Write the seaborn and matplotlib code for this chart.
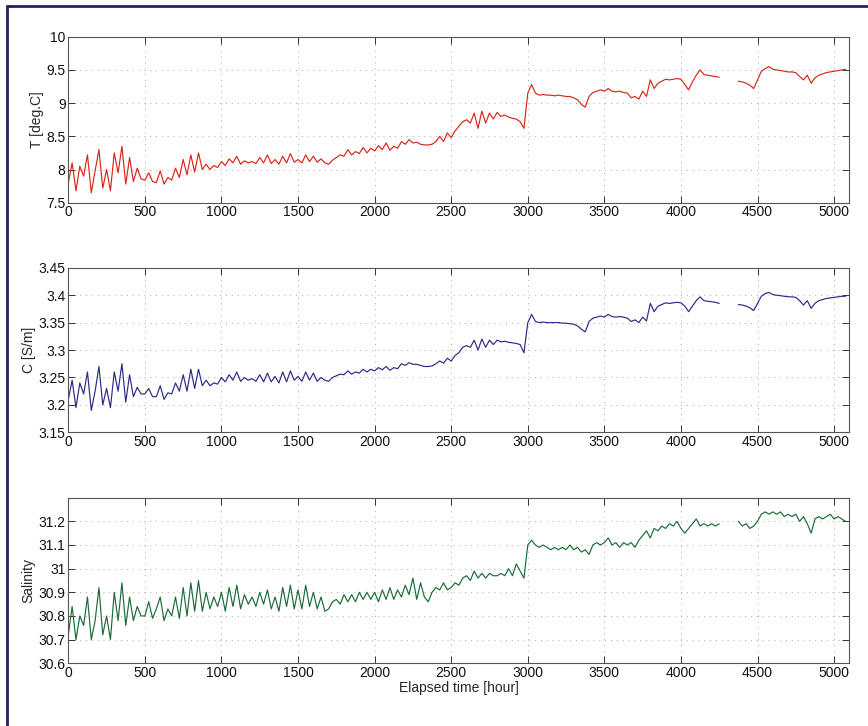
import numpy as np
import pandas as pd
import seaborn as sns
import matplotlib.pyplot as plt
from matplotlib.lines import Line2D

# elapsed hours, one reading every 25 h (0 .. 5075)
hours = np.arange(0, 5100, 25)

temp = [
    7.80, 8.10, 7.68, 8.05, 7.90, 8.22, 7.65, 7.98, 8.30, 7.72, 8.00, 7.68, 8.25, 7.95, 8.35, 7.78, 8.18, 7.82, 8.02, 7.86,
    7.84, 7.95, 7.82, 7.80, 7.98, 7.78, 7.88, 7.84, 8.02, 7.88, 8.15, 7.92, 8.22, 7.96, 8.25, 8.00, 8.08, 8.00, 8.06, 8.03,
    8.12, 8.06, 8.16, 8.10, 8.20, 8.08, 8.13, 8.10, 8.12, 8.09, 8.18, 8.10, 8.22, 8.09, 8.15, 8.08, 8.20, 8.10, 8.24, 8.11,
    8.15, 8.10, 8.22, 8.12, 8.20, 8.11, 8.16, 8.10, 8.08, 8.14, 8.18, 8.22, 8.20, 8.30, 8.22, 8.27, 8.24, 8.33, 8.25, 8.32,
    8.28, 8.36, 8.30, 8.40, 8.29, 8.35, 8.32, 8.42, 8.38, 8.45, 8.40, 8.41, 8.38, 8.37, 8.37, 8.38, 8.42, 8.50, 8.42, 8.55,
    8.48, 8.58, 8.65, 8.72, 8.75, 8.70, 8.85, 8.62, 8.88, 8.70, 8.85, 8.76, 8.86, 8.80, 8.82, 8.79, 8.77, 8.76, 8.72, 8.62,
    9.15, 9.28, 9.15, 9.12, 9.13, 9.12, 9.12, 9.11, 9.12, 9.11, 9.10, 9.10, 9.08, 9.05, 8.98, 8.94, 9.10, 9.16, 9.18, 9.20,
    9.18, 9.22, 9.18, 9.17, 9.18, 9.16, 9.15, 9.08, 9.10, 9.06, 9.18, 9.10, 9.35, 9.22, 9.30, 9.33, 9.36, 9.35, 9.36, 9.37,
    9.36, 9.28, 9.20, 9.32, 9.42, 9.50, 9.43, 9.42, 9.41, 9.40, 9.39, np.nan, np.nan, np.nan, np.nan, 9.33, 9.32, 9.30, 9.27, 9.22,
    9.35, 9.48, 9.52, 9.55, 9.51, 9.50, 9.49, 9.48, 9.47, 9.47, 9.46, 9.40, 9.35, 9.42, 9.30, 9.38, 9.42, 9.44, 9.46, 9.47,
    9.48, 9.49, 9.50, 9.51,
]

cond = [
    3.210, 3.245, 3.195, 3.240, 3.220, 3.260, 3.190, 3.225, 3.270, 3.200, 3.230, 3.195, 3.260, 3.225, 3.275, 3.205, 3.255, 3.215, 3.232, 3.220,
    3.220, 3.230, 3.215, 3.215, 3.235, 3.210, 3.222, 3.220, 3.240, 3.225, 3.255, 3.225, 3.265, 3.230, 3.265, 3.235, 3.245, 3.235, 3.240, 3.238,
    3.250, 3.242, 3.255, 3.245, 3.260, 3.243, 3.250, 3.245, 3.248, 3.243, 3.255, 3.242, 3.258, 3.242, 3.252, 3.240, 3.260, 3.242, 3.262, 3.245,
    3.252, 3.243, 3.260, 3.245, 3.258, 3.243, 3.250, 3.245, 3.243, 3.250, 3.253, 3.256, 3.255, 3.262, 3.256, 3.260, 3.258, 3.265, 3.260, 3.265,
    3.262, 3.268, 3.264, 3.270, 3.263, 3.268, 3.266, 3.275, 3.272, 3.277, 3.274, 3.274, 3.272, 3.270, 3.270, 3.271, 3.275, 3.280, 3.276, 3.285,
    3.280, 3.290, 3.295, 3.305, 3.308, 3.305, 3.318, 3.300, 3.320, 3.305, 3.318, 3.310, 3.318, 3.315, 3.316, 3.314, 3.313, 3.312, 3.310, 3.295,
    3.350, 3.365, 3.352, 3.350, 3.351, 3.350, 3.350, 3.350, 3.350, 3.349, 3.349, 3.348, 3.347, 3.344, 3.338, 3.333, 3.352, 3.358, 3.360, 3.362,
    3.360, 3.365, 3.361, 3.360, 3.361, 3.360, 3.358, 3.352, 3.355, 3.350, 3.360, 3.353, 3.385, 3.370, 3.380, 3.383, 3.386, 3.385, 3.386, 3.387,
    3.386, 3.380, 3.370, 3.380, 3.390, 3.397, 3.390, 3.389, 3.388, 3.387, 3.385, np.nan, np.nan, np.nan, np.nan, 3.383, 3.382, 3.380, 3.377, 3.372,
    3.385, 3.398, 3.403, 3.405, 3.401, 3.400, 3.399, 3.398, 3.397, 3.397, 3.396, 3.390, 3.382, 3.390, 3.376, 3.385, 3.390, 3.392, 3.394, 3.395,
    3.396, 3.397, 3.398, 3.398,
]

salinity = [
    30.72, 30.84, 30.70, 30.80, 30.76, 30.88, 30.70, 30.78, 30.92, 30.72, 30.80, 30.70, 30.90, 30.78, 30.94, 30.76, 30.88, 30.78, 30.84, 30.80,
    30.80, 30.86, 30.79, 30.83, 30.88, 30.78, 30.83, 30.80, 30.88, 30.79, 30.92, 30.80, 30.94, 30.82, 30.95, 30.82, 30.90, 30.83, 30.88, 30.84,
    30.90, 30.82, 30.92, 30.84, 30.93, 30.83, 30.89, 30.85, 30.88, 30.84, 30.90, 30.85, 30.91, 30.83, 30.88, 30.82, 30.92, 30.84, 30.93, 30.83,
    30.91, 30.83, 30.93, 30.84, 30.90, 30.83, 30.88, 30.82, 30.83, 30.86, 30.87, 30.85, 30.89, 30.86, 30.89, 30.86, 30.90, 30.87, 30.90, 30.87,
    30.90, 30.86, 30.91, 30.87, 30.92, 30.87, 30.91, 30.88, 30.93, 30.89, 30.96, 30.87, 30.94, 30.88, 30.86, 30.90, 30.92, 30.91, 30.94, 30.91,
    30.92, 30.94, 30.93, 30.96, 30.97, 30.95, 30.99, 30.96, 30.98, 30.96, 30.98, 30.97, 30.97, 30.98, 30.97, 31.00, 30.97, 31.02, 30.99, 30.96,
    31.10, 31.12, 31.10, 31.09, 31.10, 31.09, 31.08, 31.09, 31.08, 31.09, 31.08, 31.10, 31.08, 31.09, 31.07, 31.08, 31.06, 31.10, 31.11, 31.10,
    31.11, 31.13, 31.10, 31.11, 31.09, 31.11, 31.10, 31.11, 31.09, 31.12, 31.14, 31.16, 31.13, 31.17, 31.16, 31.18, 31.17, 31.19, 31.18, 31.20,
    31.17, 31.15, 31.17, 31.19, 31.21, 31.18, 31.19, 31.18, 31.19, 31.18, 31.19, np.nan, np.nan, np.nan, np.nan, 31.20, 31.18, 31.19, 31.17, 31.18,
    31.20, 31.23, 31.24, 31.23, 31.24, 31.23, 31.24, 31.22, 31.23, 31.22, 31.23, 31.20, 31.22, 31.19, 31.15, 31.21, 31.22, 31.21, 31.22, 31.23,
    31.21, 31.22, 31.21, 31.20,
]

panels = [
    ("T", temp, "T [deg.C]", "#d8261a", (7.5, 10), [7.5, 8, 8.5, 9, 9.5, 10], ["7.5", "8", "8.5", "9", "9.5", "10"]),
    ("C", cond, "C [S/m]", "#2c2a84", (3.15, 3.45), [3.15, 3.2, 3.25, 3.3, 3.35, 3.4, 3.45],
     ["3.15", "3.2", "3.25", "3.3", "3.35", "3.4", "3.45"]),
    ("S", salinity, "Salinity", "#1b6b38", (30.6, 31.3), [30.6, 30.7, 30.8, 30.9, 31.0, 31.1, 31.2],
     ["30.6", "30.7", "30.8", "30.9", "31", "31.1", "31.2"]),
]
xticks = [0, 500, 1000, 1500, 2000, 2500, 3000, 3500, 4000, 4500, 5000]

sns.set_style("ticks")
plt.rcParams['font.family'] = ['Liberation Sans', 'DejaVu Sans']
plt.rcParams['font.size'] = 10

fig = plt.figure(figsize=(8.68, 7.26), dpi=100)
boxes = [
    [0.0787, 0.7208, 0.899, 0.2286],
    [0.0787, 0.4045, 0.899, 0.2267],
    [0.0787, 0.0864, 0.899, 0.2281],
]

for box, (col, vals, label, color, ylim, yticks, ylabels) in zip(boxes, panels):
    ax = fig.add_axes(box)
    df = pd.DataFrame({"hour": hours, col: vals}).dropna()
    # separate segments across the recording gap
    df["seg"] = (df["hour"].diff() > 25).cumsum()
    sns.lineplot(data=df, x="hour", y=col, units="seg", estimator=None,
                 color=color, lw=0.85, ax=ax)
    ax.set_xlim(0, 5095)
    ax.set_ylim(*ylim)
    ax.set_xticks(xticks)
    ax.set_xticklabels([str(t) for t in xticks])
    ax.set_yticks(yticks)
    ax.set_yticklabels(ylabels)
    ax.set_ylabel(label, fontsize=10, labelpad=2)
    ax.set_xlabel("")
    ax.grid(True, color="#a8a8a8", linestyle=(0, (1, 5)), linewidth=0.7)
    ax.tick_params(direction="in", top=True, right=True, length=5, width=0.7,
                   labelsize=10, pad=2, colors="#333333", labelcolor="#111111")
    for sp in ax.spines.values():
        sp.set_color("#555555")
        sp.set_linewidth(0.8)

ax.set_xlabel("Elapsed time [hour]", fontsize=10, labelpad=1)

# page border (top and left)
fig.add_artist(Line2D([0.008, 1.0], [0.992, 0.992], color="#23235e", lw=2.0))
fig.add_artist(Line2D([0.008, 0.008], [0.0, 0.992], color="#23235e", lw=2.0))

fig.savefig("out.png", dpi=100, facecolor="white")
